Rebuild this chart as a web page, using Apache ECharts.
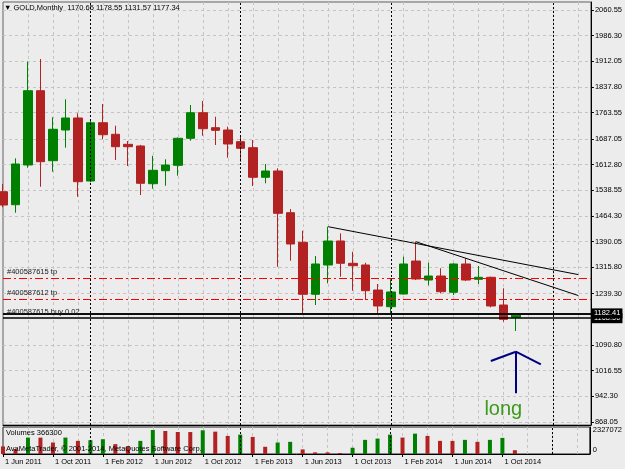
<!DOCTYPE html>
<html>
<head>
<meta charset="utf-8">
<script src="https://cdn.jsdelivr.net/npm/echarts@6/dist/echarts.min.js"></script>
<style>
html, body { margin: 0; padding: 0; background: #ececec; }
#chart { width: 625px; height: 469px; }
</style>
</head>
<body>
<div id="chart"></div>
<script>
// monthly bars, the last ones are empty space on the right
const months = ['Jun 2011','Jul 2011','Aug 2011','Sep 2011','Oct 2011','Nov 2011','Dec 2011',
  'Jan 2012','Feb 2012','Mar 2012','Apr 2012','May 2012','Jun 2012','Jul 2012','Aug 2012','Sep 2012','Oct 2012','Nov 2012','Dec 2012',
  'Jan 2013','Feb 2013','Mar 2013','Apr 2013','May 2013','Jun 2013','Jul 2013','Aug 2013','Sep 2013','Oct 2013','Nov 2013','Dec 2013',
  'Jan 2014','Feb 2014','Mar 2014','Apr 2014','May 2014','Jun 2014','Jul 2014','Aug 2014','Sep 2014','Oct 2014','Nov 2014','Dec 2014',
  'Jan 2015','Feb 2015','Mar 2015','Apr 2015','May 2015'];

const opens  = [1534.6, 1497.0, 1612.0, 1827.0, 1624.4, 1713.2, 1748.0, 1565.6, 1734.3, 1700.8, 1671.8, 1667.0, 1557.8, 1595.4,
  1611.0, 1689.2, 1763.3, 1719.9, 1713.2, 1679.4, 1662.0, 1576.3, 1594.6, 1473.9, 1388.2, 1237.7, 1322.5, 1392.0,
  1327.4, 1322.5, 1250.0, 1201.8, 1238.6, 1334.0, 1279.0, 1290.6, 1243.5, 1325.4, 1281.1, 1286.9, 1206.7, 1170.65];
const closes = [1496.1, 1614.8, 1827.0, 1621.5, 1715.3, 1748.0, 1563.6, 1734.3, 1699.6, 1664.9, 1664.9, 1559.0, 1596.6, 1611.9,
  1689.2, 1763.3, 1717.0, 1712.3, 1672.7, 1660.3, 1576.3, 1594.6, 1472.1, 1383.3, 1237.7, 1325.4, 1391.9, 1327.4,
  1320.5, 1248.1, 1203.8, 1244.4, 1325.4, 1282.0, 1290.6, 1245.2, 1325.4, 1279.0, 1286.9, 1203.8, 1165.3, 1177.34];
const lows   = [1489.5, 1473.8, 1604.1, 1549.1, 1592.5, 1662.0, 1520.0, 1562.0, 1686.3, 1626.4, 1609.0, 1525.0, 1543.3, 1552.0,
  1581.0, 1682.3, 1696.7, 1669.8, 1633.0, 1621.5, 1551.1, 1559.0, 1317.5, 1334.9, 1182.7, 1206.7, 1269.5, 1288.6,
  1248.0, 1221.2, 1180.6, 1182.0, 1237.0, 1279.0, 1263.7, 1240.5, 1235.6, 1276.0, 1267.5, 1200.0, 1158.4, 1131.57];
const highs  = [1556.9, 1631.3, 1911.0, 1918.7, 1750.0, 1802.0, 1761.6, 1745.0, 1788.5, 1725.6, 1681.4, 1670.0, 1638.8, 1628.4,
  1691.5, 1785.6, 1797.2, 1751.7, 1722.8, 1695.8, 1684.3, 1614.8, 1602.4, 1484.6, 1421.8, 1348.6, 1433.3, 1414.2,
  1361.0, 1329.0, 1267.5, 1281.1, 1346.6, 1390.0, 1329.0, 1313.0, 1327.4, 1341.8, 1319.6, 1289.0, 1255.0, 1178.55];

const volumes = [733000, 478000, 1594000, 1590000, 1116000, 1594000, 1275000, 1339000, 1434000, 956000, 733000, 1275000,
  2327072, 2231000, 2136000, 2130000, 2300000, 2168000, 1753000, 1881000, 1658000, 701000, 1116000, 1179000,
  446000, 159000, 155000, 96000, 606000, 1371000, 1498000, 1881000, 1594000, 1976000, 1753000, 1275000,
  1270000, 1371000, 1179000, 1371000, 1562000, 366300];

const priceTicks = [868.05, 942.30, 1016.55, 1090.80, 1239.30, 1315.80, 1390.05, 1464.30, 1538.55,
  1612.80, 1687.05, 1763.55, 1837.80, 1912.05, 1986.30, 2060.55];
const volumeTicks = [0, 2327072];

const separators = ['Jan 2012', 'Jan 2013', 'Jan 2014', 'Feb 2015'];
const tpLevels = [1284.0, 1223.2];
const tpNames = ['#400587615 tp', '#400587612 tp'];
const orderLevel = 1182.41;
const orderName = '#400587615 buy 0.02';
const bidLevel = 1168.5;
// [start index, start price, end index, end price]
const trendLines = [[26, 1433.3, 46, 1294.7], [33, 1390.0, 46, 1234.0]];
// arrow drawn on the chart: shaft and two head strokes
const arrowLines = [[41, 951.0, 41, 1071.5], [39, 1044.6, 41, 1071.5], [41, 1071.5, 43, 1035.0]];
const noteText = 'long';
const notePos = [40, 905.7];

const font = 'Liberation Sans';
const small = 7.5;
const last = opens.length - 1;

const chart = echarts.init(document.getElementById('chart'));

const candles = opens.map((o, i) => [o, closes[i], lows[i], highs[i]]);
const volBars = volumes.map((v, i) => ({
  value: v,
  itemStyle: {color: (i > 0 && v > volumes[i - 1]) ? '#008000' : '#b22222'}
}));

const gridLine = {show: true, lineStyle: {color: '#c4c4c4', type: [3, 3], width: 1}};
const sepStyle = {color: '#000', type: [2, 2], width: 1};

const mainLines = [];
separators.forEach(s => mainLines.push({xAxis: s, lineStyle: sepStyle, label: {show: false}}));
tpLevels.forEach((p, i) => mainLines.push({
  yAxis: p,
  lineStyle: {color: '#ff0000', type: [8, 3, 2, 3], width: 1},
  label: {show: true, position: 'insideStartTop', formatter: tpNames[i], color: '#202020',
    fontSize: small, fontFamily: font, distance: [4, 2]}
}));
mainLines.push({
  yAxis: bidLevel, lineStyle: {color: '#000', type: 'solid', width: 1.5},
  label: {show: true, position: 'end', formatter: bidLevel.toFixed(2), color: '#fff', backgroundColor: '#000',
    fontSize: small, fontFamily: font, padding: [1, 2, 1, 2], distance: 1}
});
mainLines.push({
  yAxis: orderLevel, lineStyle: {color: '#000', type: 'solid', width: 1.5},
  label: {show: true, position: 'insideStartTop', formatter: orderName, color: '#202020',
    fontSize: small, fontFamily: font, distance: [4, -3]}
});
mainLines.push({
  yAxis: orderLevel, lineStyle: {color: '#000', type: 'solid', width: 1.5},
  label: {show: true, position: 'end', formatter: orderLevel.toFixed(2), color: '#fff', backgroundColor: '#000',
    fontSize: small, fontFamily: font, padding: [1, 2, 1, 2], distance: 1}
});
trendLines.forEach(t => mainLines.push([
  {coord: [t[0], t[1]], lineStyle: {color: '#000', type: 'solid', width: 1}, label: {show: false}},
  {coord: [t[2], t[3]]}
]));
arrowLines.forEach(a => mainLines.push([
  {coord: [a[0], a[1]], lineStyle: {color: '#000080', type: 'solid', width: 2}, label: {show: false}},
  {coord: [a[2], a[3]]}
]));

const option = {
  animation: false,
  backgroundColor: '#ececec',
  textStyle: {fontFamily: font},
  title: [
    {
      text: '\u25BC GOLD,Monthly  ' + [opens[last], highs[last], lows[last], closes[last]].map(v => v.toFixed(2)).join(' '),
      left: 4, top: 4, padding: 0,
      textStyle: {fontSize: small, fontWeight: 'normal', color: '#000', fontFamily: font}
    },
    {
      text: 'Volumes ' + volumes[last],
      left: 6, top: 429, padding: 0,
      textStyle: {fontSize: small, fontWeight: 'normal', color: '#000', fontFamily: font}
    },
    {
      text: 'AvaMetaTrader, \u00A9 2001-2014, MetaQuotes Software Corp.',
      left: 6, top: 445, padding: 0,
      textStyle: {fontSize: small, fontWeight: 'normal', color: '#000', fontFamily: font}
    }
  ],
  grid: [
    {left: 3, right: 34, top: 2, height: 423, show: true, borderColor: '#606060', borderWidth: 1},
    {left: 3, right: 34, top: 427, height: 27, show: true, borderColor: '#202020', borderWidth: 1}
  ],
  xAxis: [
    {
      type: 'category', gridIndex: 0, data: months, boundaryGap: false,
      axisLine: {show: true, lineStyle: {color: '#000'}},
      axisTick: {show: false}, axisLabel: {show: false},
      splitLine: Object.assign({interval: i => i % 2 === 0 && i > 0}, gridLine)
    },
    {
      type: 'category', gridIndex: 1, data: months, boundaryGap: false,
      axisLine: {show: true, lineStyle: {color: '#000'}},
      axisTick: {show: true, length: 3, interval: i => i % 4 === 0 && i <= last, lineStyle: {color: '#000'}},
      axisLabel: {
        show: true, interval: i => i % 4 === 0 && i <= last, align: 'left', margin: 4,
        padding: [0, 0, 0, 2], color: '#000', fontSize: small, fontFamily: font,
        formatter: v => '1 ' + v
      },
      splitLine: Object.assign({interval: i => i % 2 === 0 && i > 0}, gridLine)
    }
  ],
  yAxis: [
    {
      type: 'value', gridIndex: 0, position: 'right', min: 859.4, max: 2083.7,
      axisLine: {show: true, lineStyle: {color: '#000'}},
      axisTick: {show: true, length: 3, customValues: priceTicks, lineStyle: {color: '#000'}},
      axisLabel: {
        show: true, customValues: priceTicks, margin: 4, color: '#000', fontSize: small, fontFamily: font,
        formatter: v => v.toFixed(2)
      },
      splitLine: gridLine
    },
    {
      type: 'value', gridIndex: 1, position: 'right', min: 0, max: 2620000,
      axisLine: {show: true, lineStyle: {color: '#000'}},
      axisTick: {show: false, customValues: volumeTicks},
      axisLabel: {
        show: true, customValues: volumeTicks, margin: 3, color: '#000', fontSize: small, fontFamily: font,
        formatter: v => v === 0 ? '{z|0}' : String(v),
        rich: {z: {fontSize: small, fontFamily: font, color: '#000', padding: [0, 0, 8, 0]}}
      },
      splitLine: {show: false}
    }
  ],
  series: [
    {
      name: 'GOLD', type: 'candlestick', xAxisIndex: 0, yAxisIndex: 0,
      data: candles, barWidth: 9,
      itemStyle: {color: '#008000', color0: '#b22222', borderColor: '#008000', borderColor0: '#b22222', borderWidth: 1},
      markLine: {symbol: ['none', 'none'], silent: true, animation: false, data: mainLines},
      markPoint: {
        symbol: 'circle', symbolSize: 0, silent: true,
        data: [{coord: notePos, label: {show: true, position: 'inside', formatter: noteText,
          color: '#3c9a1c', fontSize: 20, fontFamily: font}}]
      }
    },
    {
      name: 'Volumes', type: 'bar', xAxisIndex: 1, yAxisIndex: 1,
      data: volBars, barWidth: 4,
      markLine: {
        symbol: ['none', 'none'], silent: true, animation: false,
        data: separators.map(s => ({xAxis: s, lineStyle: sepStyle, label: {show: false}}))
      }
    }
  ]
};

chart.setOption(option);
</script>
</body>
</html>
